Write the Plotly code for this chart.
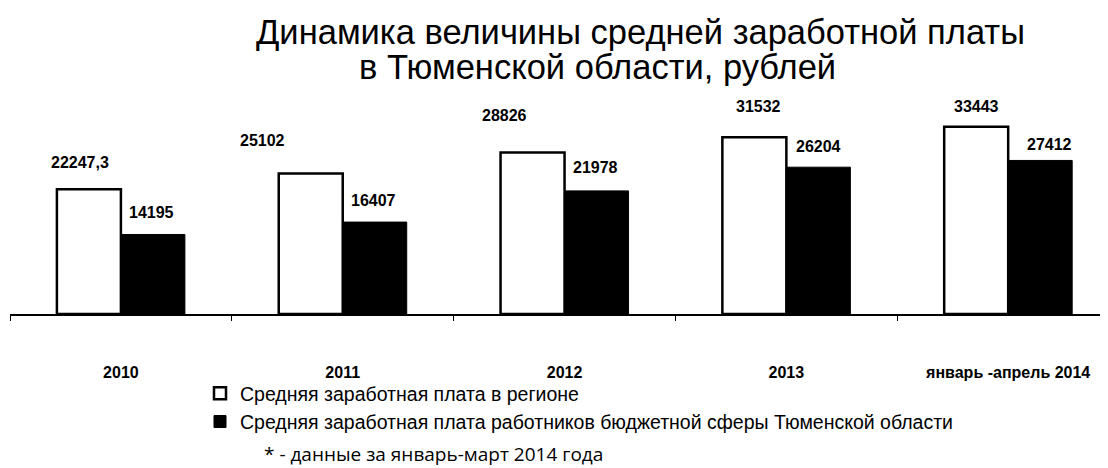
import plotly.graph_objects as go

# data
years = ['2010', '2011', '2012', '2013', 'январь -апрель 2014']
region_wage = [22247.3, 25102, 28826, 31532, 33443]
budget_wage = [14195, 16407, 21978, 26204, 27412]
region_text = ['22247,3', '25102', '28826', '31532', '33443']
budget_text = ['14195', '16407', '21978', '26204', '27412']

name_region = 'Средняя заработная плата в регионе'
name_budget = 'Средняя заработная плата работников бюджетной сферы Тюменской области'

# label nudges (px) - the labels in the original are not placed uniformly
region_dx = [-9, -48, -28, 4, 0]
region_dy = [27, 33, 37, 31, 20]
budget_dx = [-1, -1, -1, 0, 9]
budget_dy = [22, 22, 23, 21, 16]

# the page body has an 8px margin, so the figure is 8px smaller and offset
OFF = 8
W, H = 1100, 460
ML, MR, MT, MB = 2, 0, 92, 154
PW, PH = W - ML - MR, H - MT - MB


def px(x):
    # page pixel -> paper x
    return (x - OFF - ML) / PW


def py(y):
    # page pixel -> paper y
    return (H - MB - (y - OFF)) / PH


fig = go.Figure()
fig.add_bar(x=years, y=region_wage, name=name_region, legendgroup='a',
            marker=dict(color='white', line=dict(color='black', width=2.5)))
fig.add_bar(x=years, y=budget_wage, name=name_budget, legendgroup='b',
            marker=dict(color='black', line=dict(color='black', width=1)))

label_font = dict(family='Liberation Sans, Arial', size=16, color='black', weight='bold')
annotations = []
for i in range(len(years)):
    # category index, so '2010' is not read as a number
    annotations.append(dict(x=i, y=region_wage[i], xref='x', yref='y', text=region_text[i],
                            showarrow=False, xshift=-32 + region_dx[i], yshift=region_dy[i],
                            font=label_font))
    annotations.append(dict(x=i, y=budget_wage[i], xref='x', yref='y', text=budget_text[i],
                            showarrow=False, xshift=32 + budget_dx[i], yshift=budget_dy[i],
                            font=label_font))

# title, two lines set separately as in the original
title_font = dict(family='Liberation Sans, Arial', size=34.5, color='black')
annotations.append(dict(x=px(254), y=py(32), xref='paper', yref='paper', xanchor='left', yanchor='middle',
                        text='Динамика величины средней заработной платы', showarrow=False,
                        font=title_font))
annotations.append(dict(x=px(357), y=py(67), xref='paper', yref='paper', xanchor='left', yanchor='middle',
                        text='в Тюменской области, рублей', showarrow=False,
                        font=title_font))
annotations.append(dict(x=px(262), y=py(454), xref='paper', yref='paper', xanchor='left', yanchor='middle',
                        text='* - данные за январь-март 2014 года', showarrow=False,
                        font=dict(family='Open Sans', size=19, color='black')))

fig.update_layout(
    width=W, height=H,
    margin=dict(l=ML, r=MR, t=MT, b=MB),
    paper_bgcolor='white', plot_bgcolor='white',
    barmode='group', bargap=0.423, bargroupgap=0,
    annotations=annotations,
    legend=dict(x=px(200), y=py(374), xanchor='left', yanchor='top', orientation='v',
                traceorder='normal', tracegroupgap=5,
                font=dict(family='Liberation Sans, Arial', size=19.5, color='black'),
                bgcolor='rgba(0,0,0,0)'),
    xaxis=dict(type='category', range=[-0.5, 4.45], showline=True, linecolor='black', linewidth=2,
               ticks='outside', tickson='boundaries', ticklen=5, tickcolor='black', tickwidth=1,
               ticklabelstandoff=43, showgrid=False, zeroline=False,
               tickfont=dict(family='Liberation Sans, Arial', size=16, color='black', weight='bold')),
    yaxis=dict(range=[0, 38200], visible=False),
)

fig.write_html("out.html")
